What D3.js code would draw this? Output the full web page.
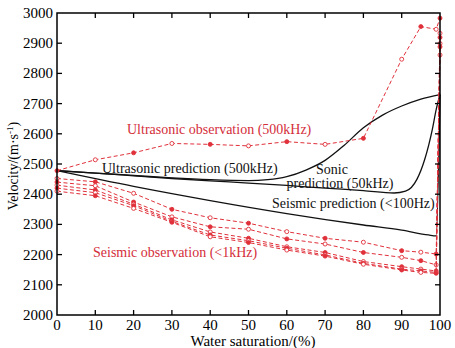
<!DOCTYPE html>
<html>
<head>
<meta charset="utf-8">
<script src="https://cdn.jsdelivr.net/npm/d3@7"></script>
<style>
  body { margin: 0; background: #fff; }
  text { font-family: "Liberation Serif", "Times New Roman", serif; }
</style>
</head>
<body>
<div id="chart"></div>
<script>
// water saturation ticks
var xTicks = [0, 10, 20, 30, 40, 50, 60, 70, 80, 90, 100];
var yTicks = [2000, 2100, 2200, 2300, 2400, 2500, 2600, 2700, 2800, 2900, 3000];

// ultrasonic observation (500kHz)
var ultraObsX = [0, 10, 20, 30, 40, 50, 60, 70, 80, 90, 95, 99, 100];
var ultraObsY = [2478, 2514, 2537, 2568, 2565, 2560, 2574, 2565, 2585, 2847, 2955, 2946, 2983];

// seismic observation (<1kHz), five samples
var seisObsX = [0, 10, 20, 30, 40, 50, 60, 70, 80, 90, 95, 99, 100];
var seisObs1 = [2452, 2441, 2403, 2350, 2322, 2304, 2276, 2254, 2241, 2213, 2208, 2202, 2861];
var seisObs2 = [2440, 2428, 2374, 2325, 2292, 2284, 2252, 2235, 2207, 2191, 2180, 2166, 2919];
var seisObs3 = [2430, 2414, 2367, 2315, 2275, 2254, 2226, 2207, 2177, 2160, 2152, 2146, 2899];
var seisObs4 = [2420, 2405, 2362, 2310, 2265, 2246, 2221, 2199, 2171, 2152, 2146, 2141, 2888];
var seisObs5 = [2410, 2395, 2353, 2307, 2259, 2240, 2215, 2195, 2168, 2149, 2141, 2138, 2933];

// predictions
var ultraPredX = [0, 10, 20, 30, 40, 50, 55, 60, 65, 70, 75, 80, 85, 90, 95, 100];
var ultraPredY = [2478, 2470, 2462, 2454, 2448, 2445, 2448, 2458, 2480, 2512, 2562, 2620, 2662, 2692, 2715, 2730];
var sonicPredX = [0, 10, 20, 30, 40, 50, 60, 70, 80, 88, 91, 94, 96, 98, 99, 100];
var sonicPredY = [2478, 2470, 2461, 2452, 2444, 2437, 2429, 2420, 2412, 2404, 2410, 2450, 2515, 2615, 2680, 2730];
var seisPredX = [0, 20, 40, 60, 80, 90, 97, 99, 100];
var seisPredY = [2478, 2426, 2379, 2336, 2298, 2281, 2265, 2262, 2730];

var w = 455, h = 348;
var mLeft = 57, mRight = 440, mTop = 13, mBottom = 315;
var red = "#e0303a", redText = "#d42e3a";

var svg = d3.select("#chart").append("svg").attr("width", w).attr("height", h);

var x = d3.scaleLinear().domain([0, 100]).range([mLeft, mRight]);
var y = d3.scaleLinear().domain([2000, 3000]).range([mBottom, mTop]);

function zip(xs, ys) {
    return xs.map(function (d, i) { return [d, ys[i]]; });
}
var line = d3.line().x(function (d) { return x(d[0]); }).y(function (d) { return y(d[1]); });
var smooth = d3.line().x(function (d) { return x(d[0]); }).y(function (d) { return y(d[1]); }).curve(d3.curveMonotoneX);

// prediction curves (black solid)
[[ultraPredX, ultraPredY], [sonicPredX, sonicPredY], [seisPredX, seisPredY]].forEach(function (s) {
    svg.append("path").attr("d", smooth(zip(s[0], s[1])))
        .attr("fill", "none").attr("stroke", "#111").attr("stroke-width", 1.3);
});

// observation series (red dashed with circles)
var obs = [
    {xs: ultraObsX, ys: ultraObsY, open: false},
    {xs: seisObsX, ys: seisObs1, open: true},
    {xs: seisObsX, ys: seisObs2, open: false},
    {xs: seisObsX, ys: seisObs3, open: true},
    {xs: seisObsX, ys: seisObs4, open: false},
    {xs: seisObsX, ys: seisObs5, open: true}
];
obs.forEach(function (s, k) {
    var pts = zip(s.xs, s.ys);
    svg.append("path").attr("d", line(pts))
        .attr("fill", "none").attr("stroke", red).attr("stroke-width", 1)
        .attr("stroke-dasharray", "4,2.5");
    svg.selectAll(".pt" + k).data(pts).enter().append("circle")
        .attr("cx", function (d) { return x(d[0]); })
        .attr("cy", function (d) { return y(d[1]); })
        .attr("r", 2)
        .attr("fill", function (d, i) { return (s.open ^ (i % 2)) ? "#fff" : red; })
        .attr("stroke", red).attr("stroke-width", 0.9);
});

// frame
svg.append("rect").attr("x", mLeft).attr("y", mTop).attr("width", mRight - mLeft).attr("height", mBottom - mTop)
    .attr("fill", "none").attr("stroke", "#000").attr("stroke-width", 1.5);

// ticks pointing inward
var tl = 5;
svg.selectAll(".xtb").data(xTicks.slice(1, -1)).enter().append("line")
    .attr("x1", x).attr("x2", x).attr("y1", mBottom).attr("y2", mBottom - tl)
    .attr("stroke", "#000").attr("stroke-width", 1.3);
svg.selectAll(".xtt").data(xTicks.slice(1, -1)).enter().append("line")
    .attr("x1", x).attr("x2", x).attr("y1", mTop).attr("y2", mTop + tl)
    .attr("stroke", "#000").attr("stroke-width", 1.3);
svg.selectAll(".ytl").data(yTicks.slice(1, -1)).enter().append("line")
    .attr("y1", y).attr("y2", y).attr("x1", mLeft).attr("x2", mLeft + tl)
    .attr("stroke", "#000").attr("stroke-width", 1.3);
svg.selectAll(".ytr").data(yTicks.slice(1, -1)).enter().append("line")
    .attr("y1", y).attr("y2", y).attr("x1", mRight).attr("x2", mRight - tl)
    .attr("stroke", "#000").attr("stroke-width", 1.3);

// tick labels
svg.selectAll(".xl").data(xTicks).enter().append("text")
    .attr("x", x).attr("y", mBottom + 15).attr("text-anchor", "middle")
    .attr("font-size", 15).text(function (d) { return d; });
svg.selectAll(".yl").data(yTicks).enter().append("text")
    .attr("x", mLeft - 4).attr("y", function (d) { return y(d) + 5; }).attr("text-anchor", "end")
    .attr("font-size", 15).text(function (d) { return d; });

// axis titles
svg.append("text").attr("x", 253).attr("y", 346).attr("text-anchor", "middle")
    .attr("font-size", 15).text("Water saturation/(%)");
var yt = svg.append("text").attr("transform", "translate(18," + 166 + ") rotate(-90)")
    .attr("text-anchor", "middle").attr("font-size", 14);
yt.append("tspan").text("Velocity/(m·s");
yt.append("tspan").attr("dy", -5).attr("font-size", 9).text("-1");
yt.append("tspan").attr("dy", 5).text(")");

// annotations
function label(tx, ty, str, col, anchor) {
    svg.append("text").attr("x", tx).attr("y", ty).attr("font-size", 14)
        .attr("text-anchor", anchor || "start").attr("fill", col).text(str);
}
label(127, 134, "Ultrasonic  observation (500kHz)", redText);
label(102, 173, "Ultrasonic prediction (500kHz)", "#111");
label(332, 174, "Sonic", "#111", "middle");
label(340, 188, "prediction (50kHz)", "#111", "middle");
label(272, 208, "Seismic prediction (<100Hz)", "#111");
label(93, 257, "Seismic observation (<1kHz)", redText);
</script>
</body>
</html>
